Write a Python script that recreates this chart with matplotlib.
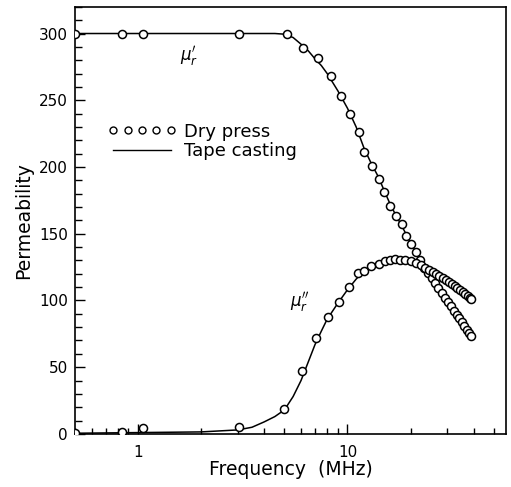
import matplotlib
matplotlib.use("Agg")
import matplotlib.pyplot as plt
from matplotlib.lines import Line2D
from matplotlib.ticker import FixedLocator, NullFormatter, LogLocator

# ---- Dry press (measured points) ----
f_real = [0.5, 0.84, 1.06, 3.05, 5.15, 6.15, 7.25, 8.3, 9.35, 10.3, 11.3, 12.05, 13.15,
          14.2, 15.0, 16.0, 17.1, 18.3, 19.1, 20.2, 21.3, 22.3, 23.3, 24.2, 25.2, 26.2,
          27.2, 28.2, 29.2, 30.2, 31.2, 32.2, 33.2, 34.2, 35.2, 36.2, 37.2, 38.2, 39.0]
mu_real_dry = [300, 300, 300, 300, 300, 289.5, 282, 268.5, 253, 240, 226, 211, 200.5,
               191, 181, 170.5, 163.5, 157, 148, 142, 136, 130.5, 124.5, 120.5, 116.5, 113,
               109, 105.5, 102, 98.5, 95.5, 92, 89, 86.5, 83.5, 80.5, 78, 75.5, 73]

f_imag = [0.5, 0.84, 1.06, 3.05, 5.0, 6.04, 7.06, 8.09, 9.09, 10.2, 11.2, 12.0, 13.0,
          14.1, 15.1, 16.0, 16.9, 17.9, 18.9, 20.2, 21.3, 22.5, 23.5, 24.5, 25.5, 26.5,
          27.5, 28.5, 29.5, 30.5, 31.5, 32.5, 33.5, 34.5, 35.5, 36.5, 37.5, 38.5, 39.0]
mu_imag_dry = [0.5, 1.5, 4.5, 5.5, 18.5, 47, 71.5, 87.5, 98.5, 110, 120.5, 122, 126,
               127, 129.5, 130.5, 131.3, 130.5, 130, 129.3, 128, 126.5, 124, 122.5, 121, 119.5,
               118, 116.5, 115, 113.5, 112, 110.5, 109, 107.5, 106, 104.5, 103, 102, 101]

# ---- Tape casting (fitted lines) ----
f_line_real = [0.5, 1, 3, 4.5, 5.0, 5.5, 6, 6.5, 7, 7.5, 8, 9, 10, 11, 12, 13, 14, 15,
               16, 17, 18, 19, 20, 21, 22, 23, 24, 27, 30, 33, 36, 39]
mu_line_real = [300, 300, 300, 300, 299.5, 297, 292, 287, 281, 276, 270, 257, 244, 230,
                214, 202.5, 193, 182, 172, 164, 157, 150, 143.5, 137.5, 132, 126, 121.5,
                109, 98.5, 89.5, 81, 73]

f_line_imag = [0.5, 1, 2, 3, 3.5, 4, 4.5, 5, 5.5, 6, 6.5, 7, 7.5, 8, 9, 10, 11, 12, 13,
               14, 15, 16, 17, 18, 19, 20, 22, 24, 27, 30, 33, 36, 39]
mu_line_imag = [0.5, 1, 1.5, 3, 5, 9, 13, 18, 28, 40, 54, 67, 77, 86, 98, 108, 116, 122,
                126, 128.5, 130, 131, 131.2, 131, 130, 129, 126.5, 123, 118, 113, 109,
                104.5, 101]

xticks_major = [1, 10]
xtick_labels = ["1", "10"]
yticks_major = [0, 50, 100, 150, 200, 250, 300]

plt.rcParams['font.family'] = ['DejaVu Sans']
fig = plt.figure(figsize=(5.11, 4.87), dpi=100)
ax = fig.add_axes([0.1468, 0.109, 0.843, 0.877])

mk = dict(ls='none', marker='o', ms=5.8, mfc='white', mec='black', mew=1.1)
ax.plot(f_line_real, mu_line_real, color='black', lw=1.1, zorder=2)
ax.plot(f_line_imag, mu_line_imag, color='black', lw=1.1, zorder=2)
ax.plot(f_real, mu_real_dry, zorder=3, **mk)
ax.plot(f_imag, mu_imag_dry, zorder=3, **mk)

ax.set_xscale('log')
ax.set_xlim(0.5, 57)
ax.set_ylim(0, 320)

ax.xaxis.set_major_locator(FixedLocator(xticks_major))
ax.set_xticklabels(xtick_labels)
ax.xaxis.set_minor_locator(LogLocator(base=10, subs=[2, 3, 4, 5, 6, 7, 8, 9]))
ax.xaxis.set_minor_formatter(NullFormatter())
ax.yaxis.set_major_locator(FixedLocator(yticks_major))
ax.yaxis.set_minor_locator(FixedLocator(list(range(0, 321, 10))))

ax.tick_params(axis='both', which='both', direction='in', top=False, right=False,
               width=1.0, labelsize=11)
ax.tick_params(axis='x', which='major', length=7, pad=8)
ax.tick_params(axis='x', which='minor', length=4.5)
ax.tick_params(axis='y', which='major', length=7.5, pad=5)
ax.tick_params(axis='y', which='minor', length=5)
for s in ax.spines.values():
    s.set_linewidth(1.2)

ax.set_xlabel("Frequency  (MHz)", fontsize=13.5, labelpad=0)
ax.set_ylabel("Permeability", fontsize=13.5, labelpad=4)

ax.text(1.75, 283, r"$\mu_r'$", fontsize=12, ha='center', va='center')
ax.text(5.9, 99, r"$\mu_r''$", fontsize=12, ha='center', va='center')

handles = [Line2D([], [], ls='none', marker='o', ms=5, mfc='white', mec='black', mew=1.0),
           Line2D([], [], color='black', lw=1.0)]
ax.legend(handles, ["Dry press", "Tape casting"], numpoints=5, handlelength=3.8,
          frameon=False, loc='upper left', bbox_to_anchor=(0.055, 0.75),
          fontsize=13, handletextpad=0.45, labelspacing=0.1, borderpad=0)

fig.savefig("out.png", dpi=100)
